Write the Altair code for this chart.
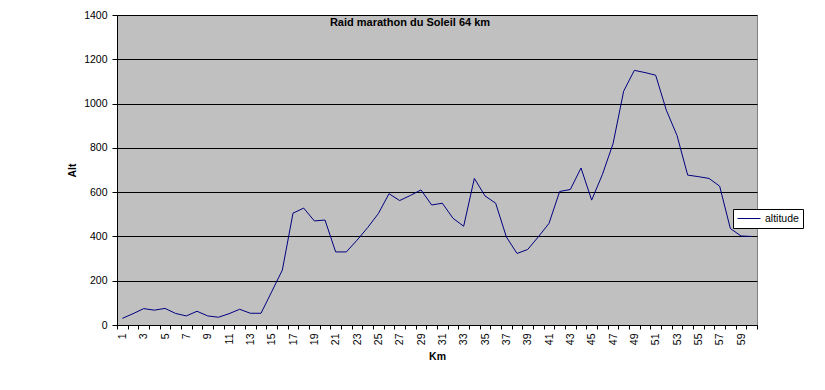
import altair as alt
import pandas as pd

km = list(range(1, 61))
altitude = [30, 51, 74, 67, 75, 52, 41, 62, 41, 35,
            51, 71, 53, 53, 150, 248, 505, 528, 470, 474,
            330, 330, 383, 440, 503, 593, 562, 585, 610, 542,
            550, 482, 446, 662, 583, 550, 398, 323, 341, 398,
            459, 603, 612, 709, 564, 679, 818, 1056, 1150, 1140,
            1128, 970, 856, 677, 670, 662, 627, 436, 402, 400]
series = ["altitude"] * len(km)
y_ticks = [0, 200, 400, 600, 800, 1000, 1200, 1400]
x_label_every = 2

df = pd.DataFrame({"Km": km, "Alt": altitude, "serie": series})

# tick positions at category boundaries plus category centres (for labels)
x_values = sorted([k - 0.5 for k in km] + [km[-1] + 0.5] + km)

FONT = "Liberation Sans"

chart = alt.Chart(df).mark_line(color="#000080", strokeWidth=1).encode(
    x=alt.X(
        "Km:Q",
        scale=alt.Scale(domain=[0.5, 60.5], nice=False, zero=False),
        axis=alt.Axis(
            title="Km",
            values=x_values,
            labelExpr=f"(datum.value % 1 == 0 && (datum.value - 1) % {x_label_every} == 0) ? '' + datum.value : ''",
            labelAngle=270,
            labelAlign="right",
            labelBaseline="middle",
            labelOverlap=False,
            labelFlush=False,
            labelBound=False,
            labelPadding=4,
            labelFontSize=10.5,
            labelFont=FONT,
            labelColor="black",
            tickSize=4,
            tickColor="black",
            tickOpacity={"condition": {"test": "datum.value % 1 != 0", "value": 1}, "value": 0},
            domainColor="black",
            grid=False,
            titleFont=FONT,
            titleFontSize=10.5,
            titleFontWeight="bold",
            titleColor="black",
            titlePadding=7,
        ),
    ),
    y=alt.Y(
        "Alt:Q",
        scale=alt.Scale(domain=[0, 1400], nice=False),
        axis=alt.Axis(
            title="Alt",
            values=y_ticks,
            format="d",
            labelFontSize=10.5,
            labelFont=FONT,
            labelColor="black",
            labelPadding=5,
            tickSize=5,
            tickColor="black",
            domainColor="black",
            grid=True,
            gridColor="black",
            gridWidth=1,
            titleFont=FONT,
            titleFontSize=10.5,
            titleFontWeight="bold",
            titleColor="black",
            titlePadding=6,
        ),
    ),
    color=alt.Color(
        "serie:N",
        scale=alt.Scale(range=["#000080"]),
        legend=alt.Legend(
            title=None,
            orient="none",
            legendX=616,
            legendY=194,
            strokeColor="black",
            fillColor="white",
            padding=4,
            symbolType="M-2.3,0L2.3,0",
            symbolSize=100,
            symbolOffset=6.5,
            symbolStrokeWidth=1,
            labelFont=FONT,
            labelFontSize=10.5,
            labelColor="black",
            labelOffset=10.5,
        ),
    ),
).properties(
    width=640,
    height=310,
    title=alt.TitleParams(
        "Raid marathon du Soleil 64 km",
        anchor="middle",
        frame="group",
        dx=-27,
        dy=22,
        font=FONT,
        fontSize=11,
        fontWeight="bold",
        color="black",
    ),
    autosize=alt.AutoSizeParams(type="none"),
    padding={"left": 109, "top": 7, "right": 60, "bottom": 57},
).configure(
    background="white",
).configure_view(
    fill="#C0C0C0",
    stroke="#808080",
    strokeWidth=1,
)

chart.save("out.html", embed_options={"renderer": "svg", "actions": False})
